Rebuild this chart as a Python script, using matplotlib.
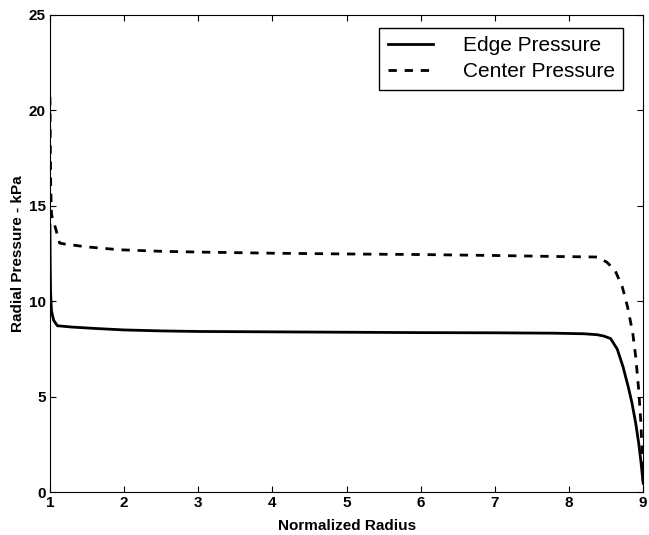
import matplotlib
matplotlib.use("Agg")
import matplotlib.pyplot as plt

plt.rcParams['font.family'] = ['Liberation Sans', 'DejaVu Sans']

# Edge pressure curve
edge_r = [1.0, 1.003, 1.008, 1.02, 1.05, 1.1, 1.3, 1.6, 2.0, 2.5, 3.0, 4.0, 5.0,
          6.0, 7.0, 7.8, 8.2, 8.38, 8.47, 8.56, 8.65, 8.73, 8.8, 8.85, 8.9,
          8.94, 8.97, 9.0]
edge_p = [14.0, 12.0, 10.5, 9.5, 9.0, 8.72, 8.65, 8.58, 8.5, 8.45, 8.42, 8.4, 8.38,
          8.36, 8.35, 8.33, 8.3, 8.25, 8.18, 8.05, 7.5, 6.55, 5.5, 4.66, 3.6,
          2.57, 1.6, 0.47]

# Center pressure curve
center_r = [1.0, 1.005, 1.01, 1.02, 1.04, 1.07, 1.13, 1.2, 1.5, 1.94, 2.5, 3.0, 4.0,
            5.0, 6.0, 7.0, 7.8, 8.2, 8.38, 8.51, 8.62, 8.72, 8.79, 8.86, 8.9,
            8.94, 8.97, 9.0]
center_p = [20.7, 18.0, 16.0, 14.6, 14.2, 13.9, 13.05, 13.0, 12.85, 12.7, 12.62, 12.58, 12.52,
            12.48, 12.45, 12.4, 12.35, 12.33, 12.32, 12.05, 11.63, 10.74, 9.7, 8.33, 7.08,
            5.35, 3.6, 0.6]

xticks = [1, 2, 3, 4, 5, 6, 7, 8, 9]
yticks = [0, 5, 10, 15, 20, 25]

fig = plt.figure(figsize=(6.49, 5.35), dpi=100)
ax = fig.add_axes([0.077, 0.080, 0.914, 0.892])

ax.plot(edge_r, edge_p, color='black', lw=2.0, label='Edge Pressure')
ax.plot(center_r, center_p, color='black', lw=2.0, linestyle=(0, (3, 2.8)),
        label='Center Pressure')

ax.set_xlim(1, 9)
ax.set_ylim(0, 25)
ax.set_xticks(xticks)
ax.set_yticks(yticks)
ax.tick_params(direction='in', length=4, top=True, right=True, pad=3)
for lab in ax.get_xticklabels() + ax.get_yticklabels():
    lab.set_fontsize(11)
    lab.set_fontweight('bold')

ax.set_xlabel('Normalized Radius', fontsize=11, fontweight='bold', labelpad=6)
ax.set_ylabel('Radial Pressure - kPa', fontsize=11, fontweight='bold', labelpad=3)

leg = ax.legend(loc='upper right', bbox_to_anchor=(0.966, 0.973), fontsize=15,
                frameon=True, fancybox=False, edgecolor='black', framealpha=1,
                handlelength=2.2, handletextpad=1.4, borderpad=0.4,
                labelspacing=0.35, borderaxespad=0)
leg.get_frame().set_linewidth(1.0)

fig.savefig('out.png', dpi=100)
